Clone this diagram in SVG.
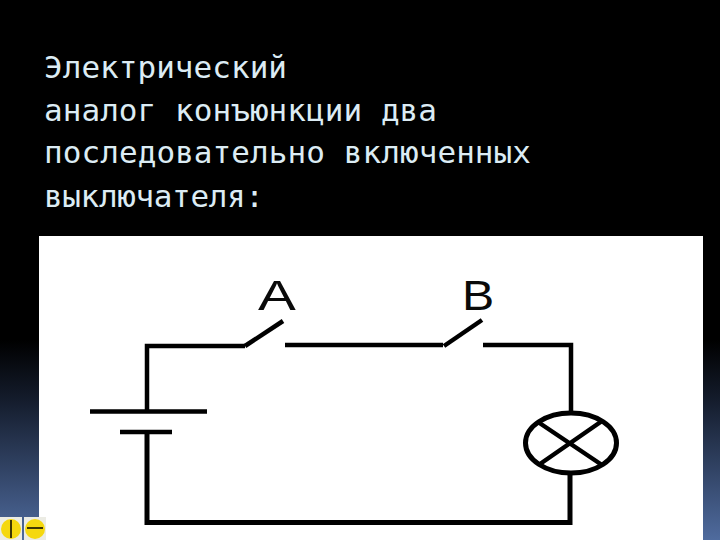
<svg xmlns="http://www.w3.org/2000/svg" width="720" height="540" viewBox="0 0 720 540">
<defs>
<linearGradient id="bg" x1="0" y1="0" x2="0" y2="1"><stop offset="0" stop-color="#000"/><stop offset="0.63" stop-color="#000"/><stop offset="0.74" stop-color="#141c2c"/><stop offset="1" stop-color="#4f6b9e"/></linearGradient>
</defs>
<style>
.t{font-family:"DejaVu Sans Mono","Liberation Mono",monospace;font-size:31px;fill:#dcecf4}
.w{fill:none;stroke:#000;stroke-linecap:butt;stroke-linejoin:miter}
.l{font-family:"Liberation Sans",Arial,sans-serif;font-size:42px;fill:#0a0a0a}
</style>
<rect width="720" height="540" fill="url(#bg)"/>
<rect x="39" y="236" width="664" height="304" fill="#fff"/>
<g id="title">
<text class="t" x="44" y="78" textLength="243" lengthAdjust="spacing">Электрический</text>
<text class="t" x="44" y="121" textLength="393" lengthAdjust="spacing">аналог конъюнкции два</text>
<text class="t" x="44" y="163" textLength="487" lengthAdjust="spacing">последовательно включенных</text>
<text class="t" x="44" y="207" textLength="220" lengthAdjust="spacing">выключателя:</text>
</g>
<g id="connectors">
<path class="w" stroke-width="4.500" d="M147 411V346H245"/>
<path class="w" stroke-width="4.500" d="M285 345H443"/>
<path class="w" stroke-width="4.500" d="M483 345H571V412"/>
<path class="w" stroke-width="5" d="M147 432V522.500H570V474"/>
</g>
<g id="switch-a"><path class="w" stroke-width="4.500" stroke-linecap="round" d="M245 346L283 321"/><text class="l" transform="translate(277 310) scale(1.35 1)" text-anchor="middle">A</text></g>
<g id="switch-b"><path class="w" stroke-width="4.500" stroke-linecap="round" d="M444 346L482 320"/><text class="l" transform="translate(478 310) scale(1.15 1)" text-anchor="middle">B</text></g>
<g id="battery"><path class="w" stroke-width="4.500" stroke-linecap="round" d="M90 411.500H207M120 432H172"/></g>
<g id="lamp"><ellipse class="w" stroke-width="5" cx="571" cy="443" rx="45.500" ry="30"/><path class="w" stroke-width="4.500" d="M538 422L602 465M602 421L540 464"/></g>
<g id="icons">
<rect x="0" y="517" width="22" height="23" fill="#ecece4"/><circle cx="11" cy="529" r="10" fill="#f5d80f"/><path class="w" stroke-width="1.500" d="M11 520V538"/>
<rect x="24" y="517" width="22" height="23" fill="#ecece4"/><circle cx="35" cy="529" r="10" fill="#f5d80f"/><path class="w" stroke-width="1.500" d="M27 528H43"/>
</g>
</svg>
